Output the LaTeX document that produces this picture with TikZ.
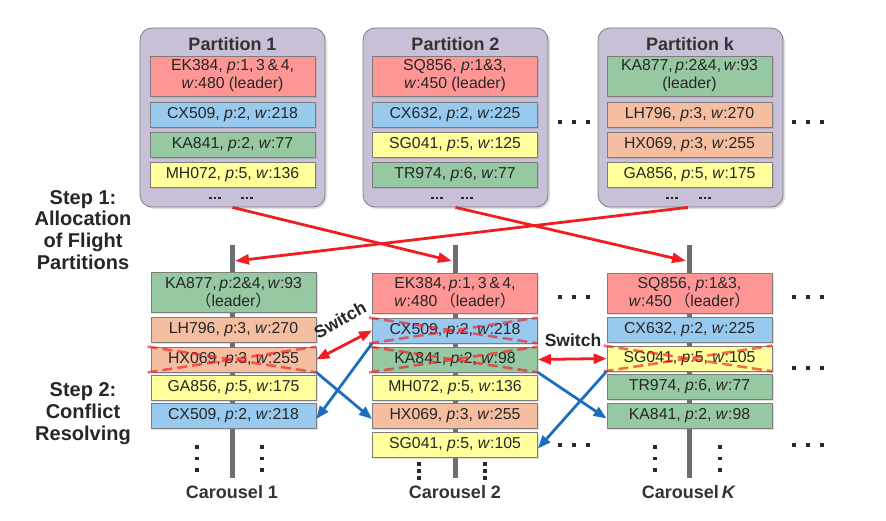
\documentclass[tikz,border=0pt]{standalone}
\usepackage{fontspec}
\setmainfont{Liberation Sans}
\newfontfamily\cjk{Noto Sans CJK SC}
\usetikzlibrary{arrows.meta,shadows}
\definecolor{cred}{RGB}{255,150,150}
\definecolor{cblue}{RGB}{152,202,240}
\definecolor{cgreen}{RGB}{150,200,162}
\definecolor{cyellow}{RGB}{255,255,155}
\definecolor{corange}{RGB}{245,190,160}
\definecolor{cpart}{RGB}{200,192,215}
\definecolor{cborder}{RGB}{125,125,125}
\definecolor{arrred}{RGB}{240,30,35}
\definecolor{arrblue}{RGB}{30,110,190}
\definecolor{cpole}{RGB}{110,110,110}
\definecolor{dotc}{RGB}{40,40,40}
\newcommand{\myp}{\textit{p}}
\newcommand{\myw}{\textit{w}}
\newcommand{\lpar}{{\cjk （}}
\newcommand{\rpar}{{\cjk ）}}
\tikzset{
  fbox/.style={draw=cborder, line width=0.8pt, minimum width=165pt, minimum height=25pt,
    inner sep=0pt, align=center, font=\fontsize{15.8}{18}\selectfont, text=black!85,
    drop shadow={shadow xshift=1.5pt, shadow yshift=-1.5pt, opacity=0.25}},
  tall/.style={minimum height=40pt},
  part/.style={draw=cborder, fill=cpart, rounded corners=12pt, minimum width=185pt,
    minimum height=179pt, line width=0.8pt,
    drop shadow={shadow xshift=2pt, shadow yshift=-2pt, opacity=0.25}},
  ttl/.style={font=\bfseries\fontsize{18}{20}\selectfont, text=black!80},
  steplbl/.style={font=\bfseries\fontsize{20}{21.8}\selectfont, text=black!85, align=center},
  swlbl/.style={font=\bfseries\fontsize{17.5}{20}\selectfont, text=black!85, inner sep=1pt},
  pole/.style={draw=cpole, line width=5pt},
  redarr/.style={draw=arrred, line width=2.8pt, -{Triangle[length=14pt,width=10pt]}},
  redarr2/.style={draw=arrred, line width=2.8pt, {Triangle[length=13pt,width=10pt]}-{Triangle[length=13pt,width=10pt]}},
  bluearr/.style={draw=arrblue, line width=2.8pt, -{Triangle[length=13pt,width=10pt]}},
  cross/.style={draw=arrred, opacity=0.65, line width=2.6pt, dash pattern=on 10pt off 5pt},
}
\begin{document}
\begin{tikzpicture}[x=1pt,y=-1pt]
\useasboundingbox (0,0) rectangle (886,520);

% ---------- partitions ----------
\node[part] (P1) at (232.5,117.5) {};
\node[part] (P2) at (455.5,117.5) {};
\node[part] (Pk) at (690.5,117.5) {};
\node[ttl] (T1) at (232.5,44) {Partition 1};
\node[ttl] (T2) at (455.5,44) {Partition 2};
\node[ttl] (Tk) at (690,44) {Partition k};

\node[fbox,tall,fill=cred] (P1a) at (232.5,76) {EK384, \myp:1,\,3\,\&\,4,\\\myw:480 (leader)};
\node[fbox,fill=cblue] (P1b) at (232.5,114.5) {CX509, \myp:2, \myw:218};
\node[fbox,fill=cgreen] (P1c) at (232.5,144.5) {KA841, \myp:2, \myw:77};
\node[fbox,fill=cyellow] (P1d) at (232.5,174.5) {MH072, \myp:5, \myw:136};

\node[fbox,tall,fill=cred] (P2a) at (455,76) {SQ856, \myp:1\&3,\\\myw:450 (leader)};
\node[fbox,fill=cblue] (P2b) at (455,114.5) {CX632, \myp:2, \myw:225};
\node[fbox,fill=cyellow] (P2c) at (455,144.5) {SG041, \myp:5, \myw:125};
\node[fbox,fill=cgreen] (P2d) at (455,174.5) {TR974, \myp:6, \myw:77};

\node[fbox,tall,fill=cgreen] (Pka) at (689.5,76) {KA877,\,\myp:2\&4,\,\myw:93\\(leader)};
\node[fbox,fill=corange] (Pkb) at (689.5,114.5) {LH796, \myp:3, \myw:270};
\node[fbox,fill=corange] (Pkc) at (689.5,144.5) {HX069, \myp:3, \myw:255};
\node[fbox,fill=cyellow] (Pkd) at (689.5,174.5) {GA856, \myp:5, \myw:175};

% partition bottom dots
\foreach \cx in {215,247,437,467,672,705}
  \foreach \i in {-1,0,1}
    \fill[dotc] (\cx+\i*4.8-1.4,196.6) rectangle +(2.8,2.8);

% ---------- carousels: poles ----------
\coordinate (C1top) at (232,245); \coordinate (C1bot) at (232,478);
\coordinate (C2top) at (455,245); \coordinate (C2bot) at (455,478);
\coordinate (CKtop) at (689,245); \coordinate (CKbot) at (689,478);
\draw[pole] (C1top) -- (C1bot);
\draw[pole] (C2top) -- (C2bot);
\draw[pole] (CKtop) -- (CKbot);

% carousel 1
\node[fbox,tall,fill=cgreen] (C1a) at (233.5,292.5) {KA877,\,\myp:2\&4,\,\myw:93\\\lpar leader\rpar};
\node[fbox,fill=corange] (C1b) at (233.5,330) {LH796, \myp:3, \myw:270};
\node[fbox,fill=corange] (C1c) at (233.5,359.5) {HX069, \myp:3, \myw:255};
\node[fbox,fill=cyellow] (C1d) at (233.5,387.5) {GA856, \myp:5, \myw:175};
\node[fbox,fill=cblue] (C1e) at (233.5,416) {CX509, \myp:2, \myw:218};

% carousel 2
\node[fbox,tall,fill=cred] (C2a) at (455,293) {EK384,\,\myp:1,\,3\,\&\,4,\\\myw:480\,\lpar leader\rpar};
\node[fbox,fill=cblue] (C2b) at (455,330.5) {CX509, \myp:2, \myw:218};
\node[fbox,fill=cgreen] (C2c) at (455,359.5) {KA841, \myp:2, \myw:98};
\node[fbox,fill=cyellow] (C2d) at (455,387.5) {MH072, \myp:5, \myw:136};
\node[fbox,fill=corange] (C2e) at (455,416) {HX069, \myp:3, \myw:255};
\node[fbox,fill=cyellow] (C2f) at (455,444.5) {SG041, \myp:5, \myw:105};

% carousel K
\node[fbox,tall,fill=cred] (CKa) at (689.5,293) {SQ856, \myp:1\&3,\\\myw:450\,\lpar leader\rpar};
\node[fbox,fill=cblue] (CKb) at (689.5,329.5) {CX632, \myp:2, \myw:225};
\node[fbox,fill=cyellow] (CKc) at (689.5,358.5) {SG041, \myp:5, \myw:105};
\node[fbox,fill=cgreen] (CKd) at (689.5,387) {TR974, \myp:6, \myw:77};
\node[fbox,fill=cgreen] (CKe) at (689.5,415.5) {KA841, \myp:2, \myw:98};

% crossed-out boxes
\foreach \n in {C1c,C2b,C2c,CKc}{
  \draw[cross] ([xshift=-3pt]\n.north west) -- (\n.south east);
  \draw[cross] ([xshift=-3pt]\n.south west) -- (\n.north east);
}

% carousel labels
\node[ttl] (L1) at (232,492) {Carousel 1};
\node[ttl] (L2) at (455,492) {Carousel 2};
\node[ttl] (LK) at (689,492) {Carousel\,\textit{K}};

% step labels
\node[steplbl] (S1) at (83,230) {Step 1:\\Allocation\\of Flight\\Partitions};
\node[steplbl] (S2) at (83,413.5) {Step 2:\\Conflict\\Resolving};

% horizontal dots
\foreach \x/\y in {560/122,794/122,560/297,794/297,794/368,560/445,794/445}
  \foreach \i in {0,1,2}
    \fill[dotc] (\x+\i*14-1.7,\y-1.7) rectangle +(3.4,3.4);
% vertical dots
\foreach \x in {197,262,655,720}
  \foreach \y in {447,458.5,470}
    \fill[dotc] (\x-1.7,\y-1.7) rectangle +(3.4,3.4);
\foreach \x in {419,485}
  \foreach \y in {464,471,478}
    \fill[dotc] (\x-1.7,\y-1.7) rectangle +(3.4,3.4);

% ---------- step 1 arrows ----------
\coordinate (C1hit) at (235,261);
\coordinate (C2hit) at (452,261);
\coordinate (CKhit) at (686,261);
\draw[redarr] (P1.south) -- (C2hit);
\draw[redarr] (P2.south) -- (CKhit);
\draw[redarr] ([xshift=-2.5pt]Pk.south) -- (C1hit);

% ---------- step 2 arrows ----------
\draw[redarr2] (C1c.east) -- (C2b.west);
\node[swlbl, rotate=29] (SW1) at (340,320) {Switch};
\draw[redarr2] (C2c.east) -- (CKc.west);
\node[swlbl] (SW2) at (573,340) {Switch};

\draw[bluearr] (C1c.south east) -- ([yshift=-3pt]C2e.west);
\draw[bluearr] (C2b.south west) -- ([yshift=-3pt]C1e.east);
\draw[bluearr] (C2c.south east) -- ([yshift=-3pt]CKe.west);
\draw[bluearr] (CKc.south west) -- ([yshift=-4pt]C2f.east);
\end{tikzpicture}
\end{document}
